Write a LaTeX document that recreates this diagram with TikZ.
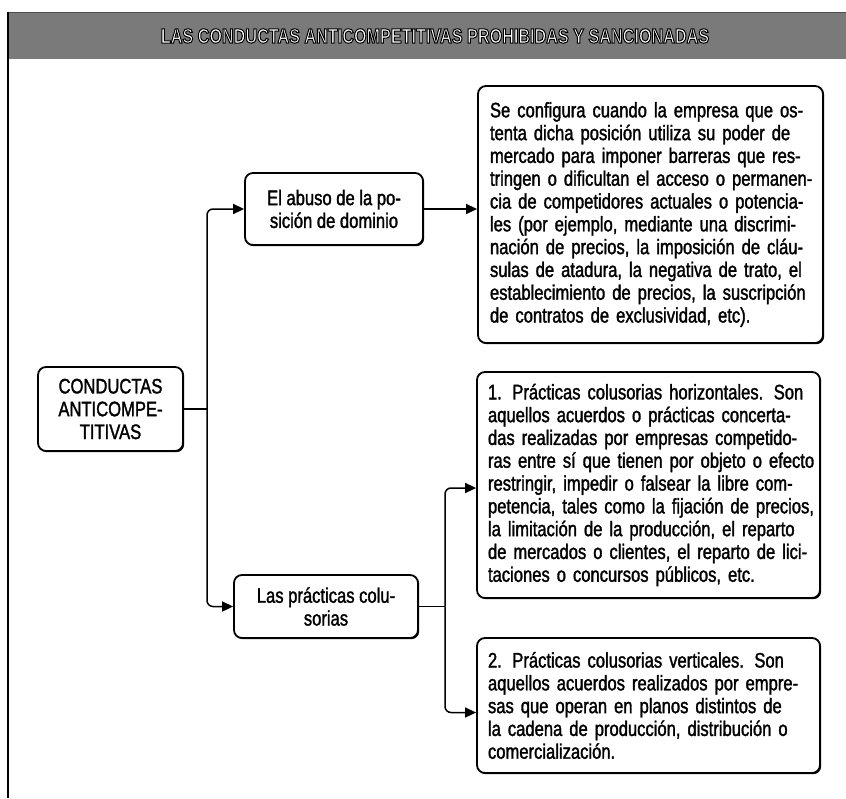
\documentclass[tikz,border=0pt]{standalone}
\usepackage{fontspec}
\setmainfont{Liberation Sans}[FakeStretch=0.79, FakeBold=1.5]
\newfontfamily\titlefont{Liberation Sans Bold}[FakeStretch=0.79]
\usetikzlibrary{arrows.meta,shadows,calc}
\newcommand{\jl}[1]{\hbox to \linewidth{#1}}
\newcommand{\lastl}[1]{\hbox to \linewidth{#1\hfil}}
\newcommand{\ttltext}{LAS CONDUCTAS ANTICOMPETITIVAS PROHIBIDAS Y SANCIONADAS}
\definecolor{bargray}{HTML}{7A7A7A}
\tikzset{
  box/.style={draw=black, line width=1.8pt, fill=white, rounded corners=8pt,
    drop shadow={shadow xshift=1.2pt, shadow yshift=-1.2pt, fill=black, opacity=1},
    font=\fontsize{21}{22.8}\selectfont, align=center, inner sep=0pt},
  textbox/.style={box, text width=321pt, align=left},
  conn/.style={line width=1.5pt, rounded corners=6pt},
  arr/.style={conn, -{Triangle[length=11pt,width=10pt]}},
}
\begin{document}
\begin{tikzpicture}[x=1pt,y=-1pt]
\useasboundingbox (0,0) rectangle (846,798);
% frame and title bar
\fill[bargray] (7,12) rectangle (846,59);
\draw[line width=0.8pt, black!70] (7,12) -- (846,12);
\draw[line width=1.8pt] (8,12) -- (8,798);
\node[text=white, inner sep=0pt] (title) at (435,36)
  {\special{pdf:literal direct 2 Tr 1 w 0 0 0 RG}\titlefont\fontsize{20.5}{20}\selectfont\ttltext\special{pdf:literal direct 0 Tr}};

% nodes
\node[box, minimum width=145pt, minimum height=84pt] (root) at (110.5,409)
  {CONDUCTAS\\ANTICOMPE-\\TITIVAS};
\node[box, minimum width=178pt, minimum height=72pt] (abuso) at (334,209)
  {El abuso de la po-\\sición de dominio};
\node[box, minimum width=184pt, minimum height=63pt] (pract) at (326,606.5)
  {Las prácticas colu-\\sorias};

\node[textbox, minimum width=345pt, minimum height=257pt] (top) at (650.5,214.5) {%
\jl{Se configura cuando la empresa que os-}
\jl{tenta dicha posición utiliza su poder de}
\jl{mercado para imponer barreras que res-}
\jl{tringen o dificultan el acceso o permanen-}
\jl{cia de competidores actuales o potencia-}
\jl{les (por ejemplo, mediante una discrimi-}
\jl{nación de precios, la imposición de cláu-}
\jl{sulas de atadura, la negativa de trato, el}
\jl{establecimiento de precios, la suscripción}
\lastl{de contratos de exclusividad, etc).}};

\node[textbox, minimum width=343pt, minimum height=226pt] (box1) at (648.5,485) {%
\jl{1. Prácticas colusorias horizontales. Son}
\jl{aquellos acuerdos o prácticas concerta-}
\jl{das realizadas por empresas competido-}
\jl{ras entre sí que tienen por objeto o efecto}
\jl{restringir, impedir o falsear la libre com-}
\jl{petencia, tales como la fijación de precios,}
\jl{la limitación de la producción, el reparto}
\jl{de mercados o clientes, el reparto de lici-}
\lastl{taciones o concursos públicos, etc.}};

\node[textbox, minimum width=343pt, minimum height=135pt] (box2) at (648.5,705.5) {%
\jl{2. Prácticas colusorias verticales. Son}
\jl{aquellos acuerdos realizados por empre-}
\jl{sas que operan en planos distintos de}
\jl{la cadena de producción, distribución o}
\lastl{comercialización.}};

% connectors
\coordinate (j1) at (207,409);
\coordinate (j2) at (445,606.5);
\coordinate (a1) at ($(box1.west)+(0,3)$);
\coordinate (a2) at ($(box2.west)+(0,7)$);
\draw[conn] (root.east) -- (j1);
\draw[arr] (j1) |- (abuso.west);
\draw[arr] (j1) |- (pract.west);
\draw[arr] (abuso.east) -- (abuso.east -| top.west);
\draw[conn] (pract.east) -- (j2);
\draw[arr] (j2) |- (a1);
\draw[arr] (j2) |- (a2);
\end{tikzpicture}
\end{document}
